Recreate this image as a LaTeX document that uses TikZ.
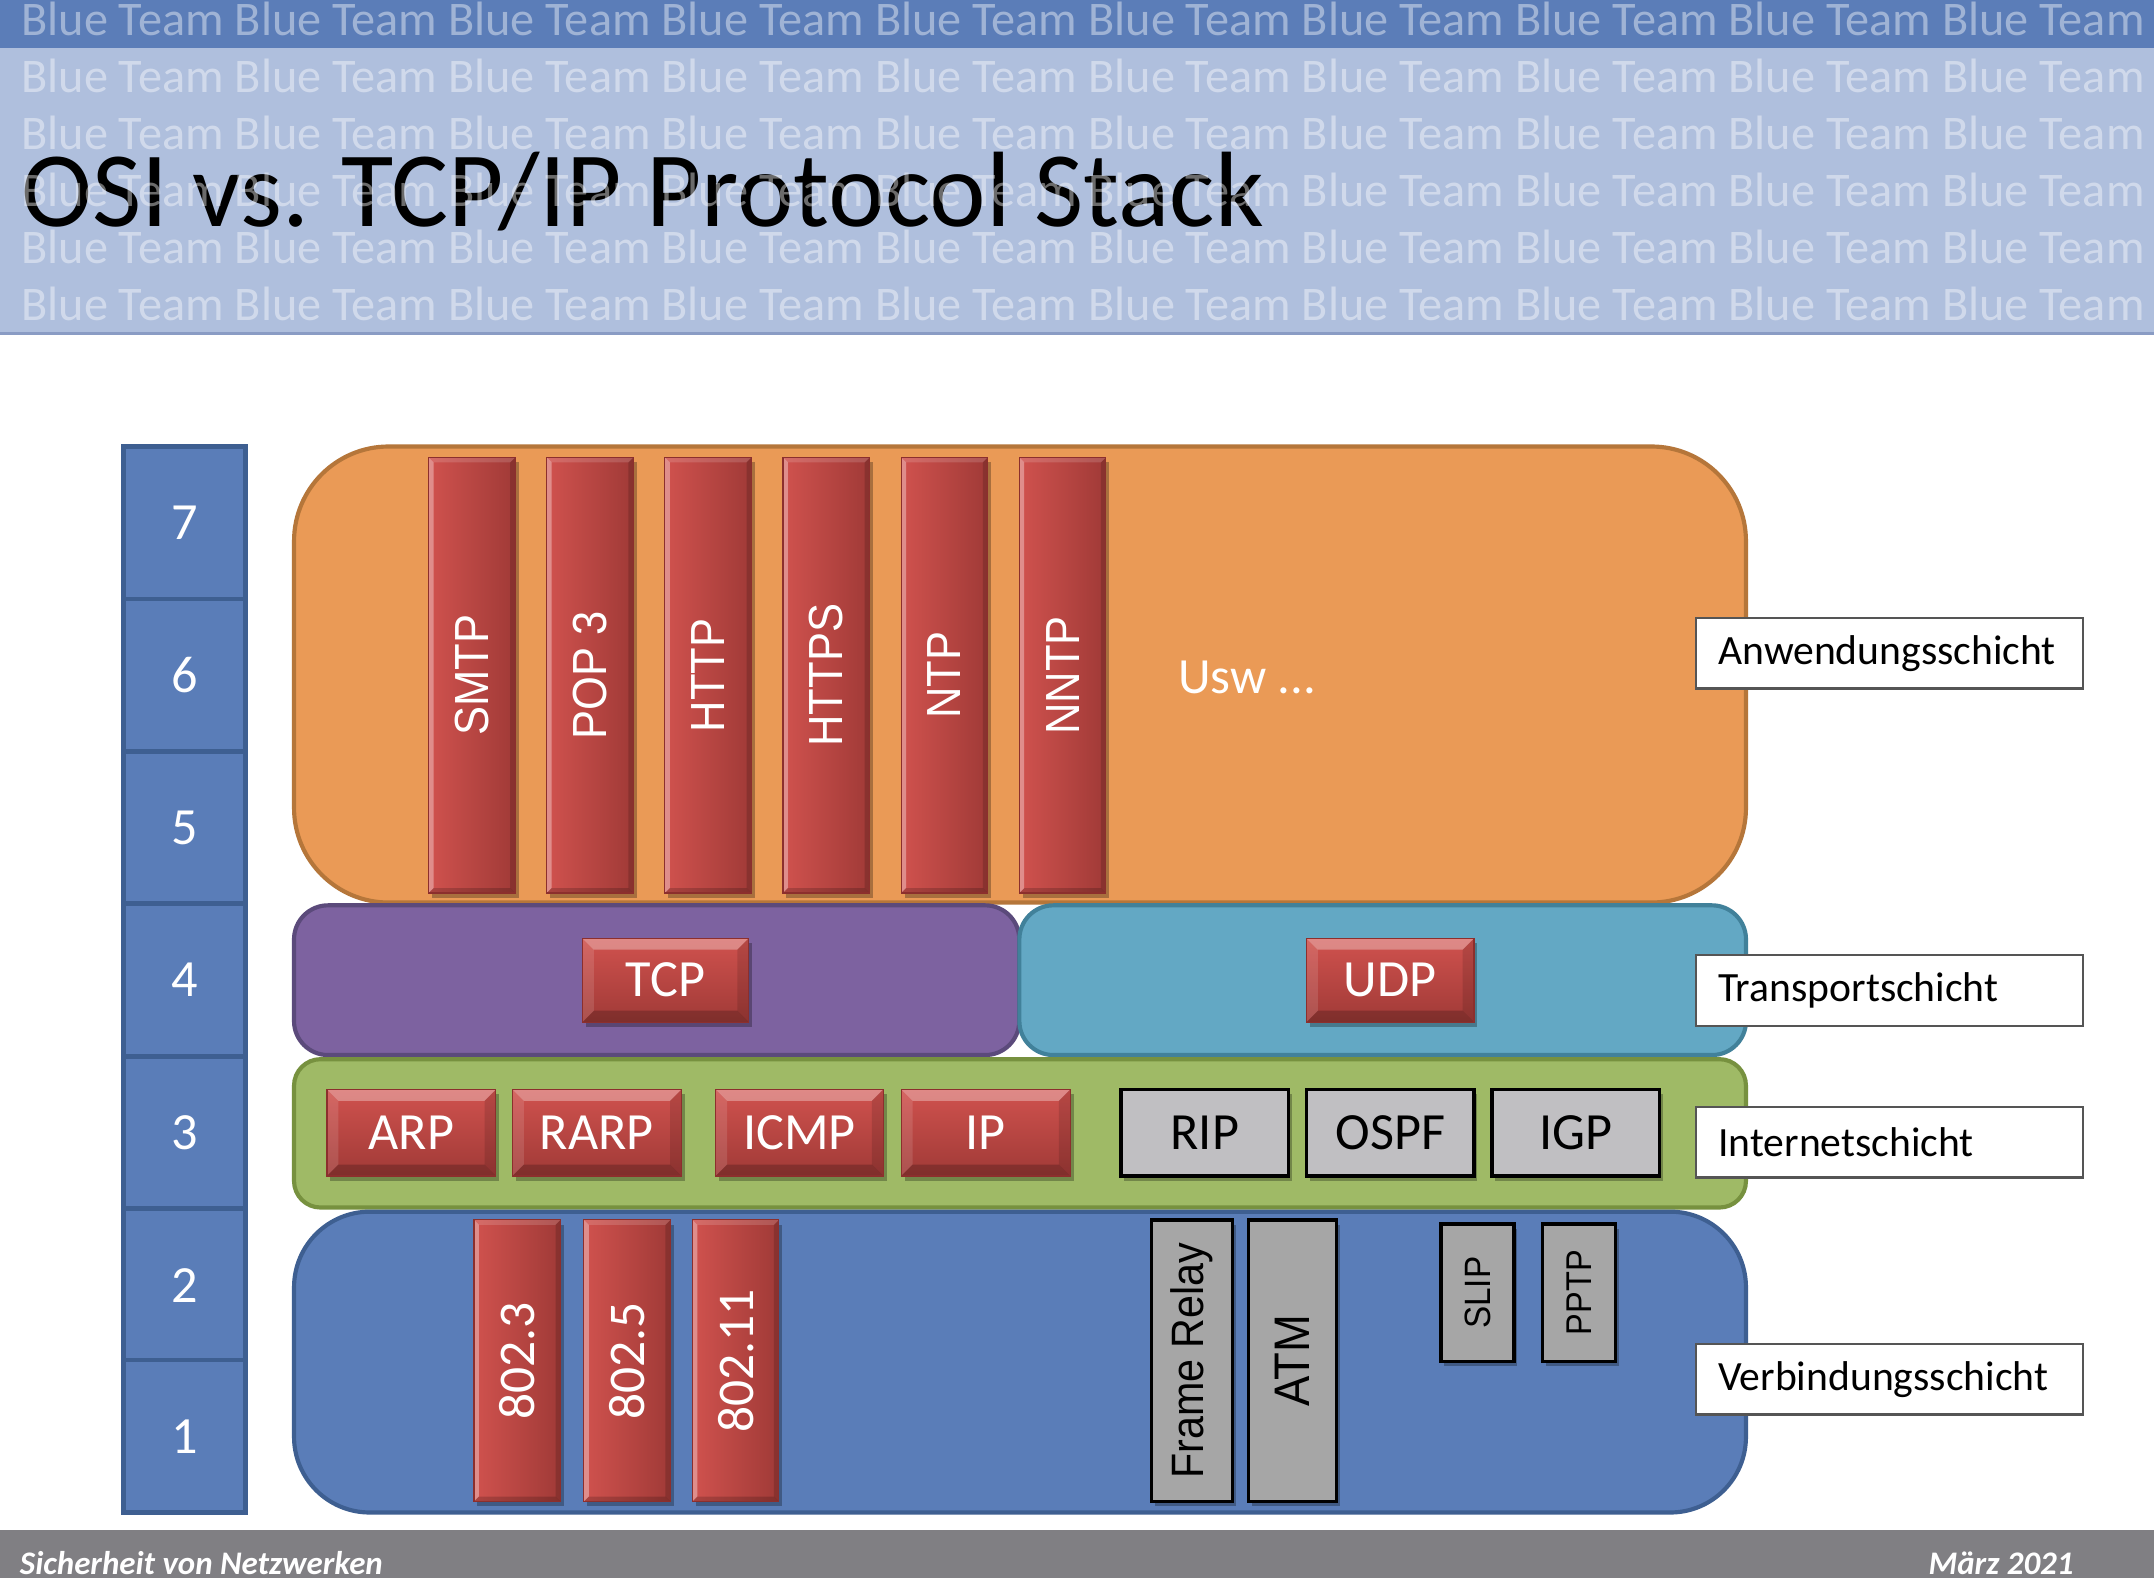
\documentclass[tikz,border=0pt]{standalone}
\usepackage{fontspec}
\usepackage{graphicx}
\setmainfont{Carlito}
\newfontfamily\arialf{Liberation Sans}

\definecolor{hdrDark}{HTML}{5B7DB8}
\definecolor{hdrLight}{HTML}{AFBFDD}
\definecolor{hdrLine}{HTML}{8A9CC4}
\definecolor{orangeF}{HTML}{EA9A56}
\definecolor{orangeD}{HTML}{B5763A}
\definecolor{purpleF}{HTML}{7D62A0}
\definecolor{purpleD}{HTML}{5B4A7B}
\definecolor{tealF}{HTML}{63A8C4}
\definecolor{tealD}{HTML}{41819A}
\definecolor{greenF}{HTML}{9FBA66}
\definecolor{greenD}{HTML}{77913F}
\definecolor{blueF}{HTML}{5A7DB8}
\definecolor{blueD}{HTML}{3E5F91}
\definecolor{redL}{HTML}{D0524E}
\definecolor{redD}{HTML}{A03A37}
\definecolor{redE}{HTML}{8C2F2D}
\definecolor{grayA}{HTML}{C0BFC2}
\definecolor{grayB}{HTML}{A6A6A6}
\definecolor{footGray}{HTML}{807F83}
\definecolor{labD}{HTML}{555555}

\def\wmtext{Blue Team Blue Team Blue Team Blue Team Blue Team Blue Team Blue Team Blue Team Blue Team Blue Team}
% one drawing unit in pt
\def\pu{0.36292pt}
% vertical label in Arial-like type, slightly broadened
\newcommand\vlab[2]{\rotatebox{90}{\scalebox{1}[1.1]{\arialf\fontsize{#1}{#1}\selectfont #2}}}

\tikzset{
  fsz/.style={font=\fontsize{#1}{#1}\selectfont},
  % node spanning the rectangle (x1,y1)-(x2,y2)
  span/.style n args={4}{at={({(#1+#3)/2},{(#2+#4)/2})},
    minimum width={(#3-#1)*\pu}, minimum height={(#4-#2)*\pu}, inner sep=0pt},
  % bevelled edges: width / top / left / right / bottom opacities
  bevel/.style n args={5}{path picture={
    \fill[white,opacity=#2] (path picture bounding box.north west) -- (path picture bounding box.north east)
      -- ([xshift=-#1,yshift=-#1]path picture bounding box.north east) -- ([xshift=#1,yshift=-#1]path picture bounding box.north west) -- cycle;
    \fill[white,opacity=#3] (path picture bounding box.north west) -- (path picture bounding box.south west)
      -- ([xshift=#1,yshift=#1]path picture bounding box.south west) -- ([xshift=#1,yshift=-#1]path picture bounding box.north west) -- cycle;
    \fill[black,opacity=#4] (path picture bounding box.north east) -- (path picture bounding box.south east)
      -- ([xshift=-#1,yshift=#1]path picture bounding box.south east) -- ([xshift=-#1,yshift=-#1]path picture bounding box.north east) -- cycle;
    \fill[black,opacity=#5] (path picture bounding box.south west) -- (path picture bounding box.south east)
      -- ([xshift=-#1,yshift=#1]path picture bounding box.south east) -- ([xshift=#1,yshift=#1]path picture bounding box.south west) -- cycle;
  }},
  softshadow/.style={preaction={fill=black,opacity=.28,transform canvas={xshift=.9pt,yshift=-1.3pt}}},
  layer/.style n args={3}{fill=#1, draw=#2, line width=1.1pt, rounded corners=#3},
  redv/.style={left color=redL, right color=redD, draw=redE, line width=.3pt,
    text=white, softshadow, bevel={1.3pt}{.15}{.35}{.15}{.18}},
  redh/.style={top color=redL, bottom color=redD, draw=redE, line width=.3pt,
    text=white, fsz=13.8, softshadow, bevel={3pt}{.32}{.12}{.12}{.2}},
  grayh/.style={fill=grayA, draw=black, line width=.9pt, text=black, fsz=13.8, softshadow},
  grayv/.style={fill=grayB, draw=black, line width=.9pt, text=black, softshadow},
  cell/.style={fill=blueF, draw=blueD, line width=1.3pt, text=white, fsz=13.8},
  lab/.style={draw=labD, fill=white, line width=.6pt, anchor=west, inner xsep=5.8pt, inner ysep=0pt,
    text width=90.6pt, align=left, minimum height=18.6pt, fsz=11},
  wm/.style={text=white, text opacity=.42, fsz=12.75, inner sep=0pt, anchor=base west},
  foot/.style={text=white, font=\bfseries\itshape\fontsize{8.7}{8.7}\selectfont, inner sep=0pt}
}

\begin{document}
\begin{tikzpicture}[x=0.012755cm, y=-0.012755cm]
\useasboundingbox (0,0) rectangle (1568,1149);
\fill[white] (0,0) rectangle (1568,1149);

% ---------- header ----------
\fill[hdrDark] (0,0) rectangle (1568,35);
\fill[hdrLight] (0,35) rectangle (1568,243);
\draw[hdrLine, line width=.8pt] (0,243) -- (1568,243);
\node[anchor=base west, inner sep=0pt, fsz=28.3] (title) at (15,165) {OSI vs. TCP/IP Protocol Stack};
\foreach \b [count=\k] in {25.5,67,108.5,150,191.5,233}
  \node[wm] (wm\k) at (15,\b) {\wmtext};

% ---------- OSI layer numbers ----------
\foreach \n/\t in {7/325,6/436,5/547,4/658,3/769,2/880,1/990}
  \node[cell, span={90}{\t}{179}{\t+111}] (osi\n) {\n};

% ---------- TCP/IP layers ----------
\node[layer={orangeF}{orangeD}{25pt}, span={214}{325}{1271}{657}] (app) {};
\node[layer={purpleF}{purpleD}{9pt}, span={214}{659}{742}{768}] (tcpl) {};
\node[layer={tealF}{tealD}{9pt}, span={742}{659}{1271}{768}] (udpl) {};
\node[layer={greenF}{greenD}{7pt}, span={214}{771}{1271}{879}] (inet) {};
\node[layer={blueF}{blueD}{20pt}, span={214}{882}{1271}{1101}] (link) {};

% application protocols
\foreach \x/\nm/\txt in {312/smtp/SMTP, 398/pop/POP 3, 484/http/HTTP, 570/https/HTTPS, 656/ntp/NTP, 742/nntp/NNTP}
  \node[redv, span={\x}{333}{\x+63}{650}] (\nm) {\vlab{11.5}{\txt}};
\node[anchor=west, inner sep=0pt, text=white, fsz=13.4] (usw) at (857,493) {Usw ...};

% transport
\node[redh, span={424}{683}{545}{744}] (tcp) {TCP};
\node[redh, span={951}{683}{1073}{744}] (udp) {UDP};

% internet
\node[redh, span={238}{793}{361}{856}] (arp) {ARP};
\node[redh, span={373}{793}{496}{856}] (rarp) {RARP};
\node[redh, span={521}{793}{643}{856}] (icmp) {ICMP};
\node[redh, span={656}{793}{779}{856}] (ip) {IP};
\node[grayh, span={816}{793}{938}{856}] (rip) {RIP};
\node[grayh, span={951}{793}{1073}{856}] (ospf) {OSPF};
\node[grayh, span={1086}{793}{1208}{856}] (igp) {IGP};

% link
\foreach \x/\nm/\txt in {345/ieeea/802.3, 425/ieeeb/802.5, 504/ieeec/802.11}
  \node[redv, span={\x}{888}{\x+63}{1093}] (\nm) {\rotatebox{90}{\fontsize{13.6}{13.6}\selectfont\txt}};
\node[grayv, span={838}{888}{897}{1093}] (fr) {\vlab{10.9}{Frame Relay}};
\node[grayv, span={909}{888}{973}{1093}] (atm) {\vlab{12}{ATM}};
\node[grayv, span={1049}{891}{1102}{991}] (slip) {\vlab{8.8}{SLIP}};
\node[grayv, span={1123}{891}{1176}{991}] (pptp) {\vlab{8.6}{PPTP}};

% ---------- layer names ----------
\node[lab] (labApp) at (1234,475.5) {Anwendungsschicht};
\node[lab] (labTr) at (1234,721) {Transportschicht};
\node[lab] (labNet) at (1234,831.5) {Internetschicht};
\node[lab] (labLink) at (1234,1004) {Verbindungsschicht};

% ---------- footer ----------
\fill[footGray] (0,1114) rectangle (1568,1149);
\node[foot, anchor=base west] (footL) at (14,1146) {Sicherheit von Netzwerken};
\node[foot, anchor=base east] (footR) at (1510,1146) {März 2021};
\end{tikzpicture}
\end{document}
